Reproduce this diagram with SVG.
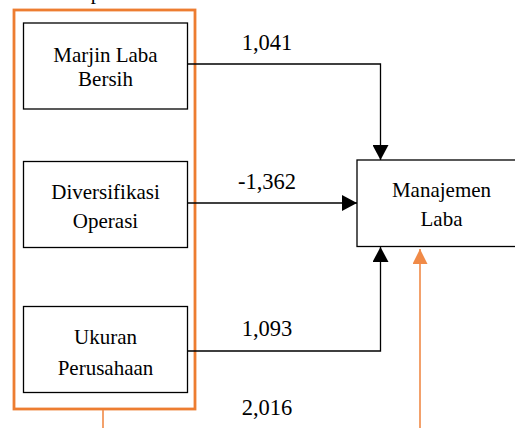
<svg xmlns="http://www.w3.org/2000/svg" width="515" height="428" viewBox="0 0 515 428">
<style>
.box{fill:#fff;stroke:#000;stroke-width:1.3}
.t{font-size:21px;fill:#000;text-anchor:middle}
.lbl{font-size:22.5px;fill:#000;text-anchor:middle}
.conn{fill:none;stroke:#000;stroke-width:1.3}
.oconn{fill:none;stroke:#F08A47;stroke-width:1.6}
</style>
<defs>
<marker id="ah" markerWidth="16" markerHeight="16" refX="15" refY="8" orient="auto" markerUnits="userSpaceOnUse">
<path d="M0,0 L15,8 L0,16 Z" fill="#000"/>
</marker>
<marker id="aho" markerWidth="16" markerHeight="16" refX="15" refY="7.5" orient="auto" markerUnits="userSpaceOnUse">
<path d="M0,0 L15,7.5 L0,15 Z" fill="#F08A47"/>
</marker>
</defs>
<rect width="515" height="428" fill="#fff"/>
<g font-family="'Liberation Serif', 'Times New Roman', 'DejaVu Serif', serif">
<text class="t" x="96" y="-1">p</text>
<g id="group-independen">
<rect x="14" y="10" width="181" height="399" fill="none" stroke="#ED7D31" stroke-width="2.8"/>
</g>
<g id="connectors">
<polyline class="conn" points="188,64 380.5,64 380.5,160" marker-end="url(#ah)"/>
<line class="conn" x1="188" y1="203" x2="357" y2="203" marker-end="url(#ah)"/>
<polyline class="conn" points="188,351 380.5,351 380.5,247" marker-end="url(#ah)"/>
<line class="oconn" x1="420" y1="428" x2="420" y2="249" marker-end="url(#aho)"/>
<line class="oconn" x1="103" y1="410" x2="103" y2="428"/>
</g>
<g id="node-marjin">
<rect class="box" x="23.5" y="23" width="164" height="86"/>
<text class="t" x="105.5" y="62">Marjin Laba</text>
<text class="t" x="105.5" y="86">Bersih</text>
</g>
<g id="node-diversifikasi">
<rect class="box" x="23.5" y="161.5" width="164" height="86"/>
<text class="t" x="105.5" y="199">Diversifikasi</text>
<text class="t" x="105.5" y="227.5">Operasi</text>
</g>
<g id="node-ukuran">
<rect class="box" x="23.5" y="306.5" width="164" height="86"/>
<text class="t" x="105.5" y="344">Ukuran</text>
<text class="t" x="105.5" y="375">Perusahaan</text>
</g>
<g id="node-manajemen">
<rect class="box" x="357" y="160" width="170" height="86.5"/>
<text class="t" x="441.5" y="196.5">Manajemen</text>
<text class="t" x="441.5" y="226">Laba</text>
</g>
<g id="labels">
<text class="lbl" x="267" y="50">1,041</text>
<text class="lbl" x="267" y="189">-1,362</text>
<text class="lbl" x="267" y="336">1,093</text>
<text class="lbl" x="267" y="415">2,016</text>
</g>
</g>
</svg>
